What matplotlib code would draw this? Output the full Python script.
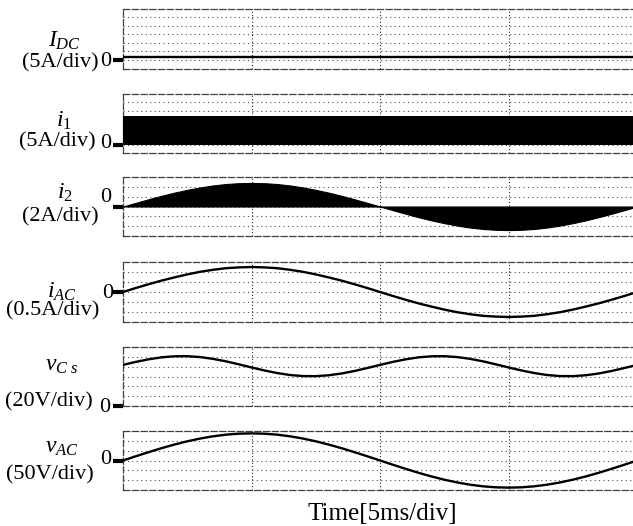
import matplotlib
matplotlib.use('Agg')
import matplotlib.pyplot as plt

plt.rcParams['font.family'] = ['Liberation Serif', 'DejaVu Serif']
plt.rcParams['mathtext.fontset'] = 'custom'
plt.rcParams['mathtext.it'] = 'Liberation Serif:italic'
plt.rcParams['mathtext.rm'] = 'Liberation Serif'

# time samples in ms (5 ms per division)
t_ms = [0, 0.5, 1, 1.5, 2, 2.5, 3, 3.5, 4, 4.5, 5, 5.5, 6, 6.5, 7, 7.5, 8, 8.5, 9, 9.5,
        10, 10.5, 11, 11.5, 12, 12.5, 13, 13.5, 14, 14.5, 15, 15.5, 16, 16.5, 17, 17.5,
        18, 18.5, 19, 19.5, 20]

# DC input current (A)
idc_t = [0, 20]
idc = [1.8, 1.8]

# i1: switched current band (A), min / max
i1_t = [0, 20]
i1_lo = [0, 0]
i1_hi = [17.2, 17.2]

# i2: switched current, envelope (A)
i2_env = [0, 0.75, 1.48, 2.18, 2.82, 3.39, 3.88, 4.28, 4.57, 4.74, 4.80, 4.74, 4.57, 4.28,
          3.88, 3.39, 2.82, 2.18, 1.48, 0.75, 0, -0.75, -1.48, -2.18, -2.82, -3.39, -3.88,
          -4.28, -4.57, -4.74, -4.80, -4.74, -4.57, -4.28, -3.88, -3.39, -2.82, -2.18,
          -1.48, -0.75, 0]

# AC output current (A)
i_ac = [0, 0.20, 0.39, 0.57, 0.73, 0.88, 1.01, 1.11, 1.19, 1.23, 1.25, 1.23, 1.19, 1.11,
        1.01, 0.88, 0.73, 0.57, 0.39, 0.20, 0, -0.20, -0.39, -0.57, -0.73, -0.88, -1.01,
        -1.11, -1.19, -1.23, -1.25, -1.23, -1.19, -1.11, -1.01, -0.88, -0.73, -0.57,
        -0.39, -0.20, 0]

# capacitor voltage (V)
v_cs = [83.6, 89.7, 95.0, 99.0, 101.1, 101.3, 99.5, 95.9, 90.9, 84.8, 78.4, 72.3, 67.0,
        63.0, 60.9, 60.7, 62.5, 66.1, 71.1, 77.2, 83.6, 89.7, 95.0, 99.0, 101.1, 101.3,
        99.5, 95.9, 90.9, 84.8, 78.4, 72.3, 67.0, 63.0, 60.9, 60.7, 62.5, 66.1, 71.1,
        77.2, 83.6]

# AC output voltage (V)
v_ac = [0, 21.6, 42.6, 62.7, 81.1, 97.6, 111.6, 123.0, 131.3, 136.3, 138.0, 136.3, 131.3,
        123.0, 111.6, 97.6, 81.1, 62.7, 42.6, 21.6, 0, -21.6, -42.6, -62.7, -81.1, -97.6,
        -111.6, -123.0, -131.3, -136.3, -138.0, -136.3, -131.3, -123.0, -111.6, -97.6,
        -81.1, -62.7, -42.6, -21.6, 0]

W, H = 633, 526
fig = plt.figure(figsize=(W / 100, H / 100), dpi=100)


def make_panel(top, bottom, ylo, ndiv, scale):
    ax = fig.add_axes([123 / W, 1 - bottom / H, (W - 123) / W, (bottom - top) / H])
    ax.set_xlim(0, 19.84)
    ax.set_ylim(ylo, ylo + ndiv * scale)
    for k in range(1, ndiv):
        ax.axhline(ylo + k * scale, color='0.3', lw=0.8, ls=(0, (1, 3)), zorder=1)
    for x in [5, 10, 15]:
        ax.axvline(x, color='0.15', lw=0.8, ls=(0, (1, 2)), zorder=1)
    for side in ['top', 'bottom', 'left']:
        ax.spines[side].set_linestyle((0, (5, 2)))
        ax.spines[side].set_color('0.25')
        ax.spines[side].set_linewidth(0.9)
    ax.spines['right'].set_visible(False)
    ax.set_xticks([])
    ax.set_yticks([0])
    ax.set_yticklabels([])
    ax.tick_params(axis='y', length=7, width=3, color='black', direction='out')
    return ax


def label(x, y, s, size=16):
    fig.text(x / W, 1 - y / H, s, ha='center', va='center', fontsize=size)


ax1 = make_panel(8.5, 68.5, -5, 7, 5)
ax1.plot(idc_t, idc, color='black', lw=1.7, zorder=3)
label(65, 41, r'$I_{DC}$', 17)
label(60, 63, '(5A/div)')
label(106, 61, '0')

ax2 = make_panel(94, 153, -5, 7, 5)
ax2.fill_between(i1_t, i1_lo, i1_hi, color='black', lw=0, zorder=3)
label(64, 121, r'$i_{1}$', 17)
label(57, 142, '(5A/div)')
label(106, 144, '0')

ax3 = make_panel(177, 236, -6, 6, 2)
ax3.fill_between(t_ms, 0, i2_env, color='black', lw=0.8, zorder=3)
label(65, 193, r'$i_{2}$', 17)
label(60, 217, '(2A/div)')
label(106, 198, '0')

ax4 = make_panel(262, 322, -1.5, 6, 0.5)
ax4.plot(t_ms, i_ac, color='black', lw=1.7, zorder=3)
label(62, 292, r'$i_{AC}$', 17)
label(53, 311, '(0.5A/div)')
label(108, 294, '0')

ax5 = make_panel(347, 406, 0, 6, 20)
ax5.plot(t_ms, v_cs, color='black', lw=1.7, zorder=3)
label(62, 366, r'$v_{C\ s}$', 17)
label(49, 402, '(20V/div)')
label(105, 408, '0')

ax6 = make_panel(431, 490, -150, 6, 50)
ax6.plot(t_ms, v_ac, color='black', lw=1.7, zorder=3)
label(62, 447, r'$v_{AC}$', 17)
label(50, 475, '(50V/div)')
label(106, 459, '0')

label(382, 514, 'Time[5ms/div]', size=18)

fig.savefig('out.png', dpi=100)
